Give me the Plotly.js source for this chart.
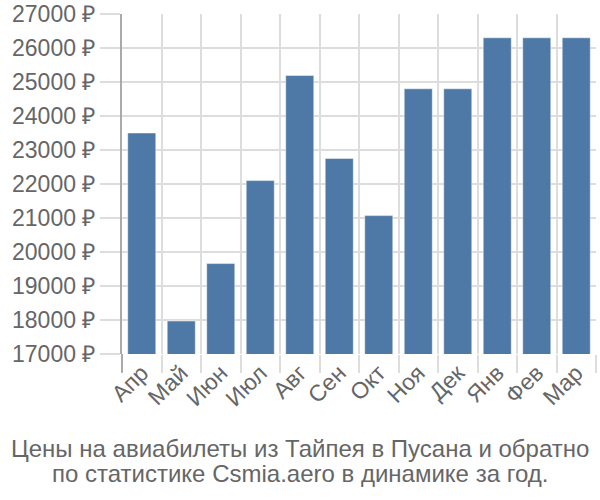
<!DOCTYPE html>
<html><head><meta charset="utf-8">
<script src="https://cdn.plot.ly/plotly-3.0.1.min.js"></script>
<style>body{margin:0;background:#fff}</style></head>
<body><div id="chart" style="width:600px;height:500px"></div>
<script>
const months = ['Апр','Май','Июн','Июл','Авг','Сен','Окт','Ноя','Дек','Янв','Фев','Мар'];
const prices = [23500, 17970, 19660, 22100, 25190, 22750, 21070, 24800, 24800, 26300, 26300, 26300];
const yTicks = [17000,18000,19000,20000,21000,22000,23000,24000,25000,26000,27000];
const yTickLabels = yTicks.map(v => v + ' ₽');
const titleLines = ['Цены на авиабилеты из Тайпея в Пусана и обратно','по статистике Csmia.aero в динамике за год.'];

const trace = {
  type: 'bar', x: months, y: prices,
  marker: {color: '#4e79a7', line: {color: 'rgba(255,255,255,0.45)', width: 1}},
  hoverinfo: 'none'
};
const titleY = [-0.277, -0.351];
const layout = {
  width: 600, height: 500,
  margin: {l: 122, r: 4, t: 14, b: 146},
  paper_bgcolor: '#fff', plot_bgcolor: '#fff',
  font: {family: 'Liberation Sans, Arial, sans-serif', size: 23, color: '#666'},
  bargap: 0.29,
  showlegend: false,
  annotations: titleLines.map((t, i) => ({text: t, xref: 'paper', yref: 'paper', x: (300 - 122) / 474, y: titleY[i],
    xanchor: 'center', yanchor: 'middle', showarrow: false, font: {size: 24, color: '#666'}})),
  xaxis: {type: 'category', tickson: 'boundaries', ticks: 'outside', ticklen: 18, tickcolor: '#ddd', tickwidth: 2,
          showgrid: true, gridcolor: '#ddd', gridwidth: 2, tickangle: -45, range: [-0.5, 11.5], fixedrange: true,
          showline: false, zeroline: false},
  yaxis: {range: [17000, 27000], tickvals: yTicks, ticktext: yTickLabels, ticks: 'outside', ticklen: 20,
          tickcolor: '#ddd', tickwidth: 2, gridcolor: '#ddd', gridwidth: 2, showline: true, linecolor: '#aaa', linewidth: 2,
          zeroline: false, fixedrange: true},
  shapes: [{type: 'line', xref: 'paper', yref: 'paper', x0: 0, x1: 0, y0: 0, y1: -0.055, line: {color: '#aaa', width: 2}}]
};
Plotly.newPlot('chart', [trace], layout, {displayModeBar: false, staticPlot: true});
</script></body></html>
